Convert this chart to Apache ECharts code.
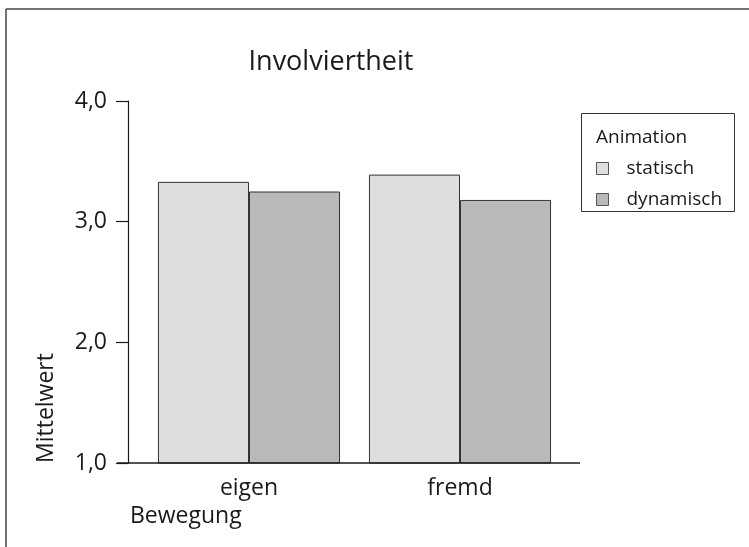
<!DOCTYPE html>
<html><head><meta charset="utf-8">
<script src="https://cdn.jsdelivr.net/npm/echarts@6/dist/echarts.min.js"></script>
<style>html,body{margin:0;padding:0;background:#fff}#c{width:749px;height:547px}</style>
</head><body><div id="c"></div>
<script>
const categories = ['eigen', 'fremd'];
const seriesNames = ['statisch', 'dynamisch'];
const statisch = [3.33, 3.39];
const dynamisch = [3.25, 3.18];
const yTicks = [1, 2, 3, 4];

const FONT = 'Open Sans';
const chart = echarts.init(document.getElementById('c'));
const option = {
  animation: false,
  backgroundColor: '#fff',
  textStyle: { fontFamily: FONT, color: '#1a1a1a' },
  title: {
    text: 'Involviertheit', left: 326, top: 44, textAlign: 'center',
    textStyle: { fontFamily: FONT, fontSize: 27, fontWeight: 'normal', color: '#1a1a1a' }
  },
  grid: { left: 143.5, right: 183.5, top: 101, bottom: 84 },
  legend: {
    orient: 'vertical', left: 581, top: 113,
    data: seriesNames,
    icon: 'rect', itemWidth: 12, itemHeight: 12, itemGap: 12,
    padding: [46, 14, 4, 15],
    textStyle: { fontFamily: FONT, fontSize: 19, color: '#1a1a1a', padding: [0, 0, 0, 13] },
    itemStyle: { borderColor: '#555', borderWidth: 1 }
  },
  xAxis: {
    type: 'category', data: categories,
    axisLine: { show: false }, axisTick: { show: false },
    axisLabel: { fontFamily: FONT, fontSize: 23, color: '#1a1a1a', margin: 14 }
  },
  yAxis: {
    type: 'value', min: 1, max: 4, interval: 1, offset: 15.5,
    splitLine: { show: false },
    axisLine: { show: true, lineStyle: { color: '#1a1a1a', width: 1.2 } },
    axisTick: { show: true, length: 12, lineStyle: { color: '#1a1a1a', width: 1.2 } },
    axisLabel: {
      fontFamily: FONT, fontSize: 23, color: '#1a1a1a', margin: 21,
      formatter: v => yTicks.includes(v) ? v.toFixed(1).replace('.', ',') : ''
    }
  },
  series: [
    { name: seriesNames[0], type: 'bar', data: statisch, barGap: '0%', barCategoryGap: '13.7%',
      itemStyle: { color: '#dedede', borderColor: '#333', borderWidth: 1 } },
    { name: seriesNames[1], type: 'bar', data: dynamisch, barGap: '0%', barCategoryGap: '13.7%',
      itemStyle: { color: '#b9b9b9', borderColor: '#333', borderWidth: 1 } }
  ]
};
chart.setOption(option);
const y0 = chart.convertToPixel({ yAxisIndex: 0 }, 1);
const yAxisX = 143.5 - 15.5;
chart.setOption({
  graphic: [
    { type: 'line', shape: { x1: 6, y1: 9, x2: 749, y2: 9 }, style: { stroke: '#444', lineWidth: 1.5 } },
    { type: 'line', shape: { x1: 6, y1: 9, x2: 6, y2: 547 }, style: { stroke: '#444', lineWidth: 1.5 } },
    { type: 'rect', shape: { x: 581.5, y: 113.5, width: 153, height: 98 }, style: { fill: 'none', stroke: '#333', lineWidth: 1 } },
    { type: 'line', shape: { x1: yAxisX - 11, y1: y0, x2: 580, y2: y0 }, style: { stroke: '#1a1a1a', lineWidth: 1.5 }, z: 10 },
    { type: 'text', left: 130, top: 505, style: { text: 'Bewegung', font: '23px "Open Sans"', fill: '#1a1a1a' } },
    { type: 'text', x: 35, y: 463, rotation: Math.PI / 2, style: { text: 'Mittelwert', font: '23px "Open Sans"', fill: '#1a1a1a', textVerticalAlign: 'top' } },
    { type: 'text', left: 596, top: 128, style: { text: 'Animation', font: '19px "Open Sans"', fill: '#1a1a1a' } }
  ]
});
</script></body></html>
